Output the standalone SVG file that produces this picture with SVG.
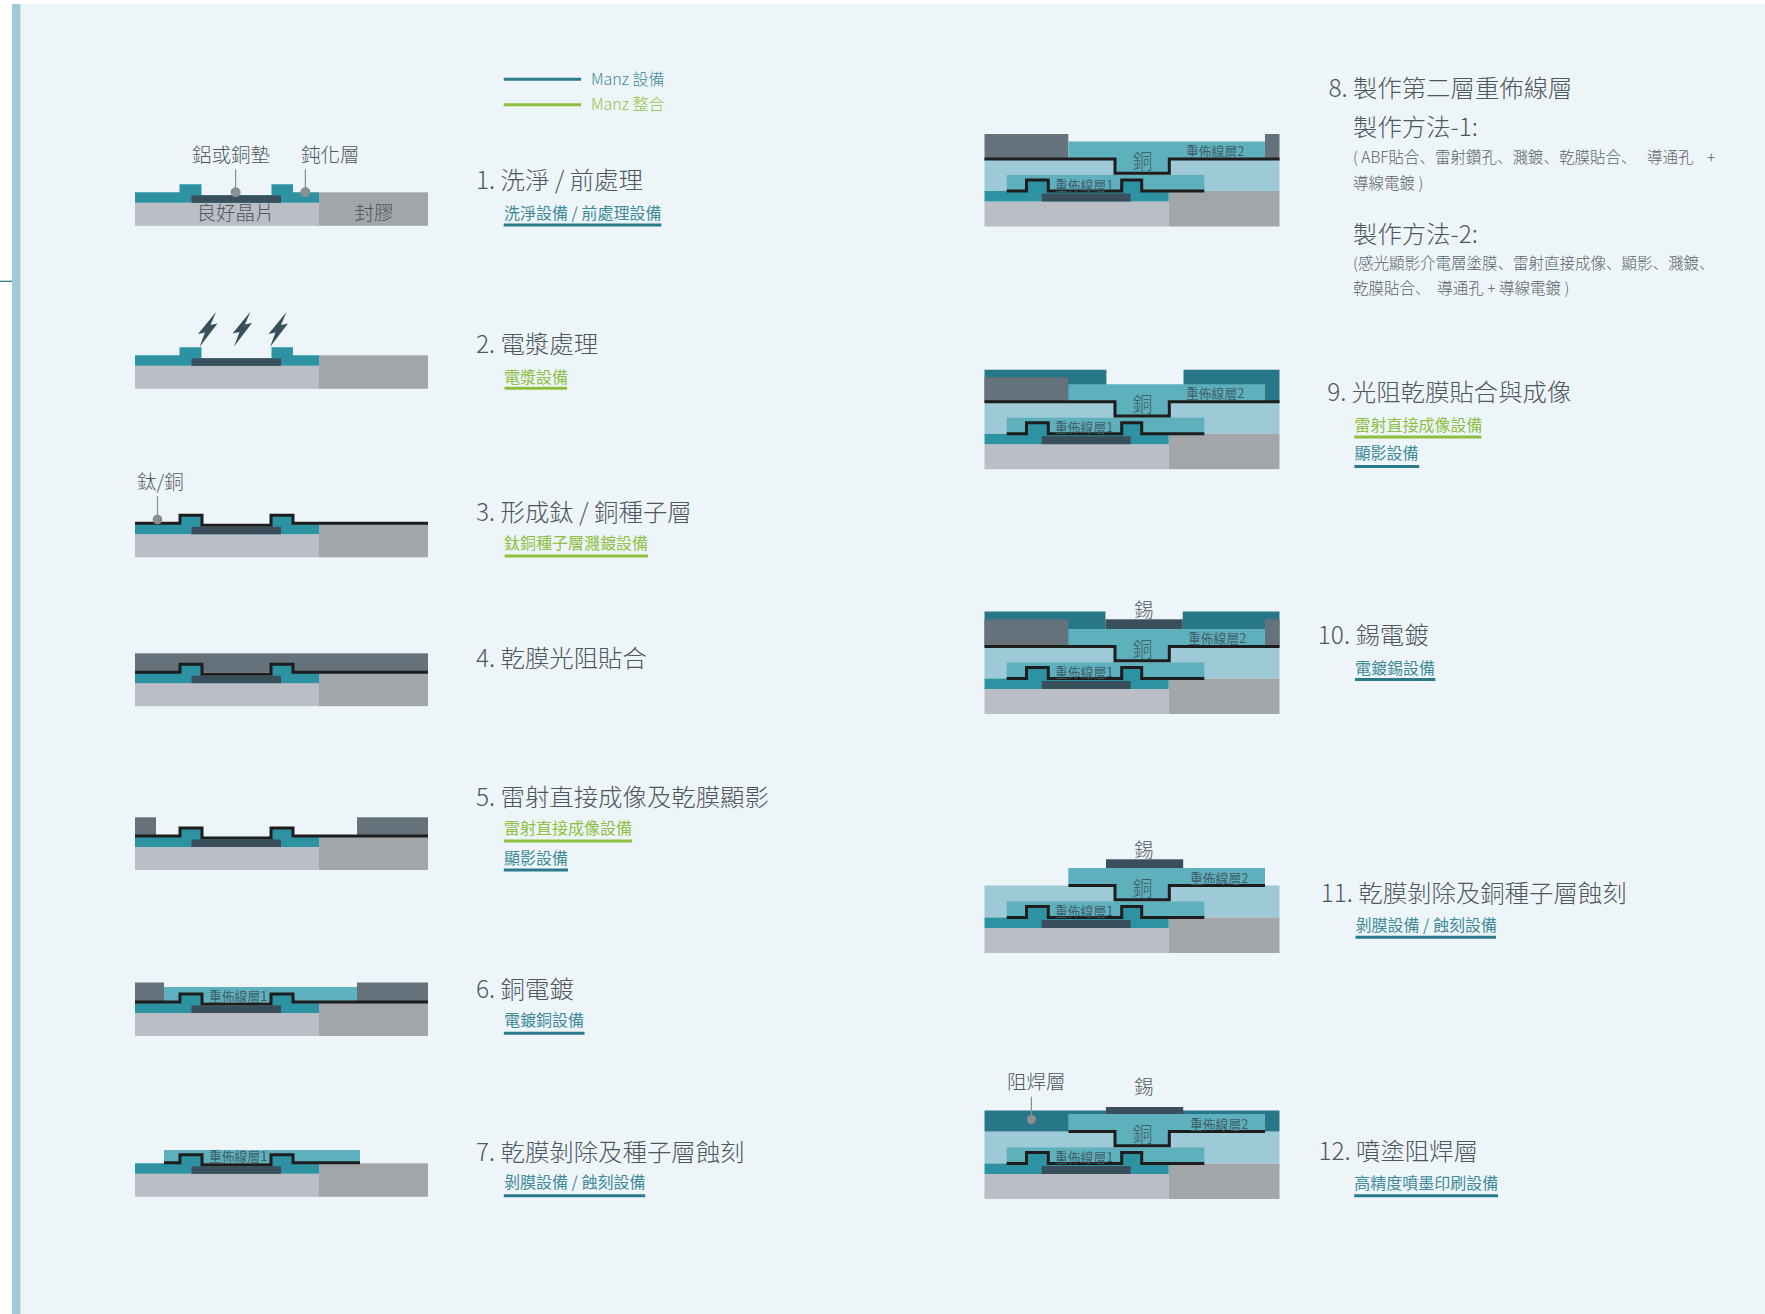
<svg xmlns="http://www.w3.org/2000/svg" xmlns:xlink="http://www.w3.org/1999/xlink" width="1765" height="1314" viewBox="0 0 1765 1314">
  <style>
    .bg{fill:#eef5f8}
    .bar{fill:#9ecbd7}
    .wafer{fill:#bbbec5}
    .mold{fill:#a3a6a9}
    .pass{fill:#2d93a3}
    .pad{fill:#394f5b}
    .film{fill:#65727b}
    .rdl{fill:#5fb0bd}
    .diel{fill:#9dcad6}
    .resist{fill:#277789}
    .seed{fill:none;stroke:#1d1d1d;stroke-width:3}
    .t{font-family:"Noto Sans CJK TC","Noto Sans",sans-serif;font-weight:300}
    .tj{font-family:"Noto Sans CJK JP","Noto Sans",sans-serif;font-weight:300}
    .title{font-size:24.4px;fill:#4d575d}
    .sub{font-size:16px;font-weight:400}
    .subm{fill:#3e8a9a}
    .subg{fill:#8fbf45}
    .ulm{stroke:#2a7a8b;stroke-width:3}
    .ulg{stroke:#8cbf3d;stroke-width:3}
    .lbl{font-size:19.5px;fill:#4d575d}
    .rl{font-size:12.8px;fill:#3f5f69;font-weight:400}
    .cu{font-size:20px;fill:#3f5f69}
    .lead{stroke:#8a8f94;stroke-width:1.2}
    .dot{fill:#8a8f94}
    .note{font-size:15.5px;fill:#59636a;white-space:pre}
    .bolt{fill:#37505b}
  </style>
  <defs>
    <!-- chip cross-section used by steps 1-7 (y=0 is the passivation top) -->
    <g id="baseL">
      <rect class="wafer" x="135" y="10.5" width="184" height="23"/>
      <rect class="mold" x="319" y="0" width="109" height="33.5"/>
      <path class="pass" d="M135,0H179.5V-8H201.5V3H271.5V-8H293V0H319V10.5H135Z"/>
      <rect class="pad" x="191.5" y="3" width="89.5" height="7.5"/>
    </g>
    <path id="seedL" class="seed" d="M135,-0.5H180V-8.5H202V1.5H271V-8.5H293V-0.5H428"/>
    <!-- chip with first redistribution layer used by steps 8-12 (y=0 is the RDL2 seed line) -->
    <g id="baseR">
      <rect class="diel" x="984.5" y="0" width="295" height="32"/>
      <rect class="rdl" x="1006.7" y="16" width="197.6" height="16"/>
      <rect class="wafer" x="984.5" y="42.5" width="184.2" height="25"/>
      <rect class="mold" x="1168.7" y="32" width="110.8" height="35.5"/>
      <path class="pass" d="M984.5,32H1026.5V21H1048.3V32H1121.7V21H1141.7V32H1168.7V42.5H984.5Z"/>
      <rect class="pad" x="1041.7" y="34.5" width="89" height="8"/>
      <path class="seed" d="M1006.7,32H1026.5V21H1048.3V32H1121.7V21H1141.7V32H1204.3"/>
      <text class="t rl" x="1055" y="30.5">重佈線層1</text>
    </g>
    <path id="rdl2" class="rdl" d="M1068.3,-17.5H1265V0H1169.3V14.3H1115V0H1068.3Z"/>
    <!-- plasma spark -->
    <path id="bolt" class="bolt" d="M18,0L0,22L7,20.5L1.5,35L19.5,11.5L12.5,13Z"/>
  </defs>

  <!-- page -->
  <rect width="1765" height="1314" fill="#ffffff"/>
  <rect class="bg" x="20.5" y="4" width="1744.5" height="1310"/>
  <rect class="bar" x="12" y="4" width="8.5" height="1310"/>
  <line x1="0" y1="281.3" x2="12" y2="281.3" stroke="#2b6f80" stroke-width="1.2"/>

  <!-- legend -->
  <g id="legend">
    <line class="ulm" x1="503.7" y1="79.3" x2="581" y2="79.3" stroke-width="2.5"/>
    <text class="t" x="591" y="85" font-size="16" fill="#3e8a9a">Manz 設備</text>
    <line class="ulg" x1="503.7" y1="104.7" x2="581" y2="104.7" stroke-width="2.5"/>
    <text class="t" x="591" y="109.5" font-size="16" fill="#94c24b">Manz 整合</text>
  </g>

  <!-- 1 -->
  <g id="step1">
    <use xlink:href="#baseL" y="192.3"/>
    <text class="t lbl" x="192" y="162">鋁或銅墊</text>
    <text class="t lbl" x="301" y="162">鈍化層</text>
    <line class="lead" x1="235.6" y1="169.3" x2="235.6" y2="192"/>
    <circle class="dot" cx="235.6" cy="192.3" r="5"/>
    <line class="lead" x1="305.4" y1="169.3" x2="305.4" y2="192"/>
    <circle class="dot" cx="305.4" cy="192.3" r="5"/>
    <text class="t lbl" x="196.6" y="220.3" font-size="19">良好晶片</text>
    <text class="t lbl" x="354.5" y="220.3" font-size="19">封膠</text>
    <text class="t title" x="476" y="189">1. 洗淨 / 前處理</text>
    <text class="t sub subm" x="504" y="219">洗淨設備 / 前處理設備</text>
    <line class="ulm" x1="503.7" y1="225" x2="661.3" y2="225"/>
  </g>

  <!-- 2 -->
  <g id="step2">
    <use xlink:href="#baseL" y="355.3"/>
    <use xlink:href="#bolt" x="198" y="312"/>
    <use xlink:href="#bolt" x="232.5" y="311.5"/>
    <use xlink:href="#bolt" x="268.5" y="312"/>
    <text class="t title" x="476" y="352.5">2. 電漿處理</text>
    <text class="t sub subg" x="504" y="382.5">電漿設備</text>
    <line class="ulg" x1="504.6" y1="388.3" x2="567" y2="388.3"/>
  </g>

  <!-- 3 -->
  <g id="step3">
    <use xlink:href="#baseL" y="523.8"/>
    <use xlink:href="#seedL" y="523.8"/>
    <text class="t lbl" x="137" y="489">鈦/銅</text>
    <line class="lead" x1="157.5" y1="496" x2="157.5" y2="519"/>
    <circle class="dot" cx="157.5" cy="519.5" r="4.8"/>
    <text class="t title" x="476" y="520.7">3. 形成鈦 / 銅種子層</text>
    <text class="t sub subg" x="504" y="549">鈦銅種子層濺鍍設備</text>
    <line class="ulg" x1="504.6" y1="556" x2="648" y2="556"/>
  </g>

  <!-- 4 -->
  <g id="step4">
    <rect class="film" x="135" y="653.3" width="293" height="19.4"/>
    <use xlink:href="#baseL" y="672.7"/>
    <use xlink:href="#seedL" y="672.7"/>
    <text class="t title" x="476" y="666.7">4. 乾膜光阻貼合</text>
  </g>

  <!-- 5 -->
  <g id="step5">
    <rect class="film" x="135" y="817.3" width="21" height="19.2"/>
    <rect class="film" x="357" y="817.3" width="71" height="19.2"/>
    <use xlink:href="#baseL" y="836.5"/>
    <use xlink:href="#seedL" y="836.5"/>
    <text class="t title" x="476" y="806">5. 雷射直接成像及乾膜顯影</text>
    <text class="t sub subg" x="504" y="834">雷射直接成像設備</text>
    <line class="ulg" x1="503.8" y1="841" x2="632.2" y2="841"/>
    <text class="t sub subm" x="504" y="864">顯影設備</text>
    <line class="ulm" x1="503.8" y1="870" x2="568" y2="870"/>
  </g>

  <!-- 6 -->
  <g id="step6">
    <rect class="film" x="135" y="982.5" width="29" height="20"/>
    <rect class="film" x="357" y="982.5" width="71" height="20"/>
    <rect class="rdl" x="164" y="987" width="193" height="15.5"/>
    <use xlink:href="#baseL" y="1002.5"/>
    <use xlink:href="#seedL" y="1002.5"/>
    <text class="t rl" x="209" y="1000.5">重佈線層1</text>
    <text class="t title" x="476" y="998.3">6. 銅電鍍</text>
    <text class="t sub subm" x="504" y="1026">電鍍銅設備</text>
    <line class="ulm" x1="503.8" y1="1033.3" x2="584.5" y2="1033.3"/>
  </g>

  <!-- 7 -->
  <g id="step7">
    <rect class="rdl" x="164" y="1150" width="196" height="13.3"/>
    <use xlink:href="#baseL" y="1163.3"/>
    <path class="seed" transform="translate(0,1163.3)" d="M164,-0.5H180V-8.5H202V1.5H271V-8.5H293V-0.5H360"/>
    <text class="t rl" x="209" y="1161">重佈線層1</text>
    <text class="t title" x="476" y="1160.7">7. 乾膜剝除及種子層蝕刻</text>
    <text class="t sub subm" x="504" y="1187.5">剝膜設備 / 蝕刻設備</text>
    <line class="ulm" x1="503.8" y1="1195.7" x2="645.2" y2="1195.7"/>
  </g>

  <!-- 8 -->
  <g id="step8">
    <use xlink:href="#baseR" y="159"/>
    <rect class="film" x="984.5" y="134" width="83.8" height="25"/>
    <rect class="film" x="1265" y="134" width="14.5" height="25"/>
    <use xlink:href="#rdl2" y="159"/>
    <path class="seed" d="M984.5,159H1115V173.3H1169.3V159H1279.5"/>
    <text class="t cu" x="1132.5" y="169">銅</text>
    <text class="t rl" x="1186" y="155.5">重佈線層2</text>
    <text class="t title" x="1328.4" y="96.5">8. 製作第二層重佈線層</text>
    <text class="t title" x="1353" y="136">製作方法-1:</text>
    <text class="tj note" x="1353" y="163">( ABF貼合、雷射鑽孔、濺鍍、乾膜貼合、   導通孔    +</text>
    <text class="tj note" x="1353" y="189">導線電鍍 )</text>
    <text class="t title" x="1353" y="242.5">製作方法-2:</text>
    <text class="tj note" x="1353" y="268.5">(感光顯影介電層塗膜、雷射直接成像、顯影、濺鍍、</text>
    <text class="tj note" x="1353" y="294">乾膜貼合、  導通孔 + 導線電鍍 )</text>
  </g>

  <!-- 9 -->
  <g id="step9">
    <use xlink:href="#baseR" y="401.7"/>
    <rect class="resist" x="984.5" y="369.7" width="121.9" height="32"/>
    <rect class="resist" x="1183.5" y="369.7" width="96" height="32"/>
    <rect class="film" x="984.5" y="377.2" width="83.8" height="24.5"/>
    <use xlink:href="#rdl2" y="401.7"/>
    <path class="seed" d="M984.5,401.7H1115V416H1169.3V401.7H1279.5"/>
    <text class="t cu" x="1132.5" y="412">銅</text>
    <text class="t rl" x="1186" y="398.2">重佈線層2</text>
    <text class="t title" x="1327.3" y="401">9. 光阻乾膜貼合與成像</text>
    <text class="t sub subg" x="1354.4" y="431">雷射直接成像設備</text>
    <line class="ulg" x1="1354.4" y1="437" x2="1481.4" y2="437"/>
    <text class="t sub subm" x="1354.4" y="459">顯影設備</text>
    <line class="ulm" x1="1354.4" y1="466.5" x2="1419.2" y2="466.5"/>
  </g>

  <!-- 10 -->
  <g id="step10">
    <use xlink:href="#baseR" y="646.5"/>
    <rect class="resist" x="984.5" y="611.5" width="121" height="35"/>
    <rect class="resist" x="1182.7" y="611.5" width="96.8" height="35"/>
    <rect class="film" x="984.5" y="619.3" width="83.8" height="27.2"/>
    <rect class="film" x="1265" y="619.3" width="14.5" height="27.2"/>
    <rect class="pad" x="1105.5" y="619.3" width="77.2" height="10"/>
    <use xlink:href="#rdl2" y="646.5"/>
    <path class="seed" d="M984.5,646.5H1115V660.8H1169.3V646.5H1279.5"/>
    <text class="t lbl" x="1134" y="617">錫</text>
    <text class="t cu" x="1132.5" y="657">銅</text>
    <text class="t rl" x="1188" y="643">重佈線層2</text>
    <text class="t title" x="1317.8" y="644.3">10. 錫電鍍</text>
    <text class="t sub subm" x="1355" y="674">電鍍錫設備</text>
    <line class="ulm" x1="1355" y1="679.5" x2="1435.3" y2="679.5"/>
  </g>

  <!-- 11 -->
  <g id="step11">
    <use xlink:href="#baseR" y="885.5"/>
    <rect class="pad" x="1106" y="859.3" width="77.2" height="9.7"/>
    <use xlink:href="#rdl2" y="885.5"/>
    <path class="seed" d="M1068.5,885.5H1115V899.8H1169.3V885.5H1265"/>
    <text class="t lbl" x="1134" y="857">錫</text>
    <text class="t cu" x="1132.5" y="896">銅</text>
    <text class="t rl" x="1190" y="882.5">重佈線層2</text>
    <text class="t title" x="1320.7" y="901.7">11. 乾膜剝除及銅種子層蝕刻</text>
    <text class="t sub subm" x="1355.5" y="931">剝膜設備 / 蝕刻設備</text>
    <line class="ulm" x1="1355.5" y1="937.3" x2="1496" y2="937.3"/>
  </g>

  <!-- 12 -->
  <g id="step12">
    <use xlink:href="#baseR" y="1131.5"/>
    <rect class="resist" x="984.5" y="1110.5" width="295" height="21"/>
    <rect class="pad" x="1106" y="1107" width="77.2" height="9"/>
    <use xlink:href="#rdl2" y="1131.5"/>
    <path class="seed" d="M1068.5,1131.5H1115V1145.8H1169.3V1131.5H1265"/>
    <text class="t lbl" x="1007" y="1089">阻焊層</text>
    <line class="lead" x1="1031.4" y1="1096.7" x2="1031.4" y2="1117"/>
    <circle class="dot" cx="1031.4" cy="1119.5" r="4.5"/>
    <text class="t lbl" x="1134" y="1094">錫</text>
    <text class="t cu" x="1132.5" y="1142">銅</text>
    <text class="t rl" x="1190" y="1128.5">重佈線層2</text>
    <text class="t title" x="1318.5" y="1160">12. 噴塗阻焊層</text>
    <text class="t sub subm" x="1354.2" y="1189">高精度噴墨印刷設備</text>
    <line class="ulm" x1="1354.2" y1="1195.7" x2="1498" y2="1195.7"/>
  </g>
</svg>
